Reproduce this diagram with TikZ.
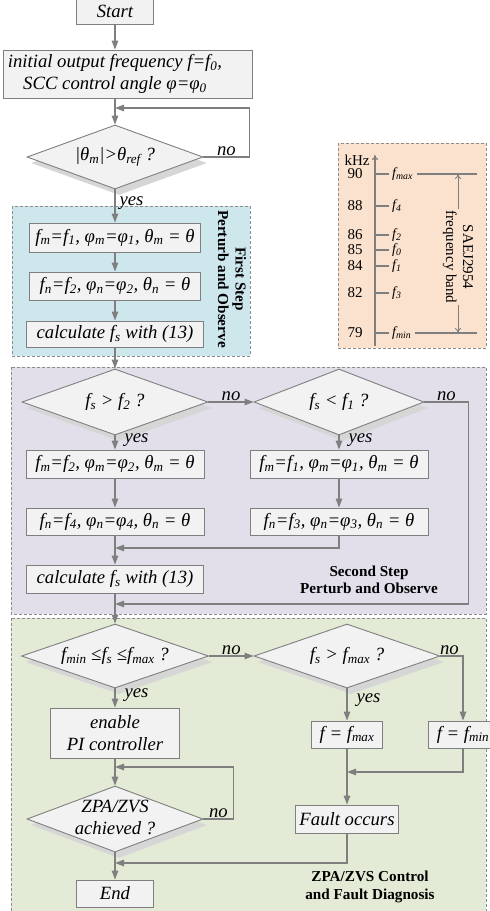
\documentclass[tikz,border=0pt]{standalone}
\usepackage{fontspec}
\setmainfont{Liberation Serif}
\usetikzlibrary{arrows.meta,shapes,shadows,calc,positioning}

\definecolor{linegray}{RGB}{127,127,127}
\definecolor{boxgray}{RGB}{242,242,242}
\definecolor{stepblue}{RGB}{206,231,237}
\definecolor{bandorange}{RGB}{251,226,207}
\definecolor{steplilac}{RGB}{226,223,235}
\definecolor{stepgreen}{RGB}{227,234,213}

\newcommand{\low}[2]{#1\textsubscript{#2}}

\begin{document}
\begin{tikzpicture}[x=1pt,y=-1pt]
% Define styles
\tikzstyle{box}=[rectangle, draw=linegray, fill=boxgray, line width=0.9pt, font=\fontsize{18.7}{22}\selectfont\itshape, inner sep=0pt, minimum height=28pt, align=center]
\tikzstyle{test}=[diamond, aspect=2.7, draw=linegray, fill=boxgray, line width=0.9pt, font=\fontsize{18.7}{22}\selectfont\itshape, inner sep=0pt, drop shadow={shadow xshift=4pt, shadow yshift=-6pt, fill=black!16, opacity=1}]
\tikzstyle{panel}=[draw=black!45, dash pattern=on 3pt off 2pt, line width=0.7pt]
\tikzstyle{arr}=[color=linegray, line width=1.2pt, -{Triangle[length=9pt,width=6.5pt]}]
\tikzstyle{tag}=[text=black, font=\fontsize{18.7}{22}\selectfont\itshape, inner sep=1pt]
\tikzstyle{steplbl}=[font=\fontsize{15.2}{17.5}\selectfont\bfseries, align=center]
\tikzstyle{axisline}=[color=linegray, line width=1.1pt]
\tikzstyle{numlbl}=[font=\fontsize{15}{17}\selectfont, inner sep=0pt]
\tikzstyle{flbl}=[font=\fontsize{14}{16}\selectfont\itshape, inner sep=0pt, anchor=west]
\tikzstyle{bandtxt}=[font=\fontsize{15}{17}\selectfont, align=center, inner sep=1pt]

\useasboundingbox (0,0) rectangle (490,911);

% Panels
\draw[panel, fill=stepblue] (12,206) rectangle (250,356);
\draw[panel, fill=bandorange] (338,143) rectangle (486,348);
\draw[panel, fill=steplilac] (11,367) rectangle (486,614);
\draw[panel, fill=stepgreen] (11,618) rectangle (486,930);

% Start and initialisation
\node[box, minimum width=77pt, minimum height=26pt] (start) at (115,11) {Start};
\node[box, minimum width=249pt, minimum height=48pt] (init) at (127.5,74) {initial output frequency \textit{f}=\low{f}{0},\hspace*{25pt}\\SCC control angle φ=\low{φ}{0}\hspace*{25pt}};
\node[test, minimum width=176pt, minimum height=64pt] (d1) at (115,157) {|\low{θ}{m}|>\low{θ}{ref} ?};

% First step
\node[box, minimum width=171pt, minimum height=29pt] (fm1) at (115,237.5) {\low{f}{m}=\low{f}{1}, \low{φ}{m}=\low{φ}{1}, \low{θ}{m} = θ};
\node[box, minimum width=171pt] (fn1) at (115,286) {\low{f}{n}=\low{f}{2}, \low{φ}{n}=\low{φ}{2}, \low{θ}{n} = θ};
\node[box, minimum width=177pt, minimum height=26pt] (calc1) at (115,334) {calculate \low{f}{s} with (13)};
\node[steplbl, rotate=-90] (lbl1) at (232,279) {First Step\\Perturb and Observe};

% Second step
\node[test, minimum width=186pt, minimum height=66pt] (d2) at (115,402) {\low{f}{s} > \low{f}{2} ?};
\node[test, minimum width=170pt, minimum height=66pt] (d3) at (339,402) {\low{f}{s} < \low{f}{1} ?};
\node[box, minimum width=178pt] (fm2) at (115,464) {\low{f}{m}=\low{f}{2}, \low{φ}{m}=\low{φ}{2}, \low{θ}{m} = θ};
\node[box, minimum width=178pt, minimum height=27pt] (fn2) at (115,521.5) {\low{f}{n}=\low{f}{4}, \low{φ}{n}=\low{φ}{4}, \low{θ}{n} = θ};
\node[box, minimum width=178pt] (fm3) at (339,464) {\low{f}{m}=\low{f}{1}, \low{φ}{m}=\low{φ}{1}, \low{θ}{m} = θ};
\node[box, minimum width=178pt, minimum height=27pt] (fn3) at (339,521.5) {\low{f}{n}=\low{f}{3}, \low{φ}{n}=\low{φ}{3}, \low{θ}{n} = θ};
\node[box, minimum width=177pt] (calc2) at (115,579) {calculate \low{f}{s} with (13)};
\node[steplbl] (lbl2) at (369,580) {Second Step\\Perturb and Observe};

% ZPA/ZVS control and fault diagnosis
\node[test, minimum width=187pt, minimum height=64pt] (d4) at (115,656) {\low{f}{min} ≤\low{f}{s} ≤\low{f}{max} ?};
\node[test, minimum width=186pt, minimum height=64pt] (d5) at (347,656) {\low{f}{s} > \low{f}{max} ?};
\node[box, minimum width=129pt, minimum height=50pt] (pi) at (115,733) {enable\\PI controller};
\node[box, minimum width=71pt, minimum height=27pt] (fmax) at (347,734.5) {\textit{f} = \low{f}{max}};
\node[box, minimum width=70pt, minimum height=27pt] (fmin) at (463,734.5) {\textit{f} = \low{f}{min}};
\node[test, minimum width=176pt, minimum height=66pt] (d6) at (115,819) {\smash{\raisebox{-4.5pt}{\begin{tabular}{@{}c@{}}ZPA/ZVS\\achieved ?\end{tabular}}}};
\node[box, minimum width=103pt] (fault) at (347,819) {Fault occurs};
\node[box, minimum width=77pt, minimum height=27pt] (stop) at (115,893.5) {End};
\node[steplbl] (lbl3) at (370,887) {ZPA/ZVS Control\\and Fault Diagnosis};

% Frequency band
\node[numlbl] (khz) at (357,160) {kHz};
\draw[axisline, -{To[length=5pt,width=6pt]}] (375,346) -- (375,155);
\node[numlbl] (n90) at (355,174) {90};
\node[numlbl] (n88) at (355,206) {88};
\node[numlbl] (n86) at (355,235) {86};
\node[numlbl] (n85) at (355,250) {85};
\node[numlbl] (n84) at (355,266) {84};
\node[numlbl] (n82) at (355,293) {82};
\node[numlbl] (n79) at (355,333) {79};
\draw[axisline] (375,174) -- ++(14,0);
\draw[axisline] (375,206) -- ++(14,0);
\draw[axisline] (375,235) -- ++(14,0);
\draw[axisline] (375,250) -- ++(14,0);
\draw[axisline] (375,266) -- ++(14,0);
\draw[axisline] (375,293) -- ++(14,0);
\draw[axisline] (375,333) -- ++(14,0);
\node[flbl] (f90) at (392,174) {\low{f}{max}};
\node[flbl] (f88) at (392,206) {\low{f}{4}};
\node[flbl] (f86) at (392,235) {\low{f}{2}};
\node[flbl] (f85) at (392,250) {\low{f}{0}};
\node[flbl] (f84) at (392,266) {\low{f}{1}};
\node[flbl] (f82) at (392,293) {\low{f}{3}};
\node[flbl] (f79) at (392,333) {\low{f}{min}};
\draw[axisline, shorten <=4pt] (f90.east) -- (477,174);
\draw[axisline, shorten <=4pt] (f79.east) -- (477,333);
\node[bandtxt, rotate=-90] (band) at (458,257) {SAEJ2954\\frequency band};
\draw[axisline, line width=0.9pt, -{To[length=5pt,width=6pt]}] (band.west) -- (band.west |- f90);
\draw[axisline, line width=0.9pt, -{To[length=5pt,width=6pt]}] (band.east) -- (band.east |- f79);

% Connectors
\draw[arr] (start) -- (start |- init.north);
\draw[arr] (init.south -| d1) -- (d1);
\coordinate (c1) at (115,108);
\draw[arr] (d1.east) -- node[tag, above] {no} ++(46,0) |- (c1);
\draw[arr] (d1) -- node[tag, right, pos=0.4, xshift=3pt] {yes} (fm1);
\draw[arr] (fm1) -- (fn1);
\draw[arr] (fn1) -- (calc1);
\draw[arr] (calc1) -- (d2);
\draw[arr] (d2) -- node[tag, above] {no} (d3);
\draw[arr] (d2) -- node[tag, right, pos=0.35, xshift=8pt] {yes} (fm2);
\draw[arr] (fm2) -- (fn2);
\draw[arr] (fn2) -- (calc2);
\draw[arr] (d3) -- node[tag, right, pos=0.35, xshift=8pt] {yes} (fm3);
\draw[arr] (fm3) -- (fn3);
\coordinate (m1) at (115,548);
\draw[arr] (fn3) |- (m1);
\coordinate (m2) at (115,604);
\draw[arr] (d3.east) -- node[tag, above] {no} ++(44,0) |- (m2);
\draw[arr] (calc2) -- (d4);
\draw[arr] (d4) -- node[tag, above] {no} (d5);
\draw[arr] (d4) -- node[tag, right, pos=0.35, xshift=8pt] {yes} (pi);
\draw[arr] (d5) -- node[tag, right, pos=0.35, xshift=8pt] {yes} (fmax);
\draw[arr] (d5.east) -| node[tag, above, pos=0.2] {no} (fmin);
\draw[arr] (pi) -- (d6);
\coordinate (m3) at (115,767);
\draw[arr] (d6.east) -- node[tag, above] {no} ++(30,0) |- (m3);
\draw[arr] (fmax) -- (fault);
\coordinate (m4) at (347,772);
\draw[arr] (fmin) |- (m4);
\coordinate (m5) at (115,863);
\draw[arr] (fault) |- (m5);
\draw[arr] (d6) -- (stop);

\end{tikzpicture}
\end{document}
